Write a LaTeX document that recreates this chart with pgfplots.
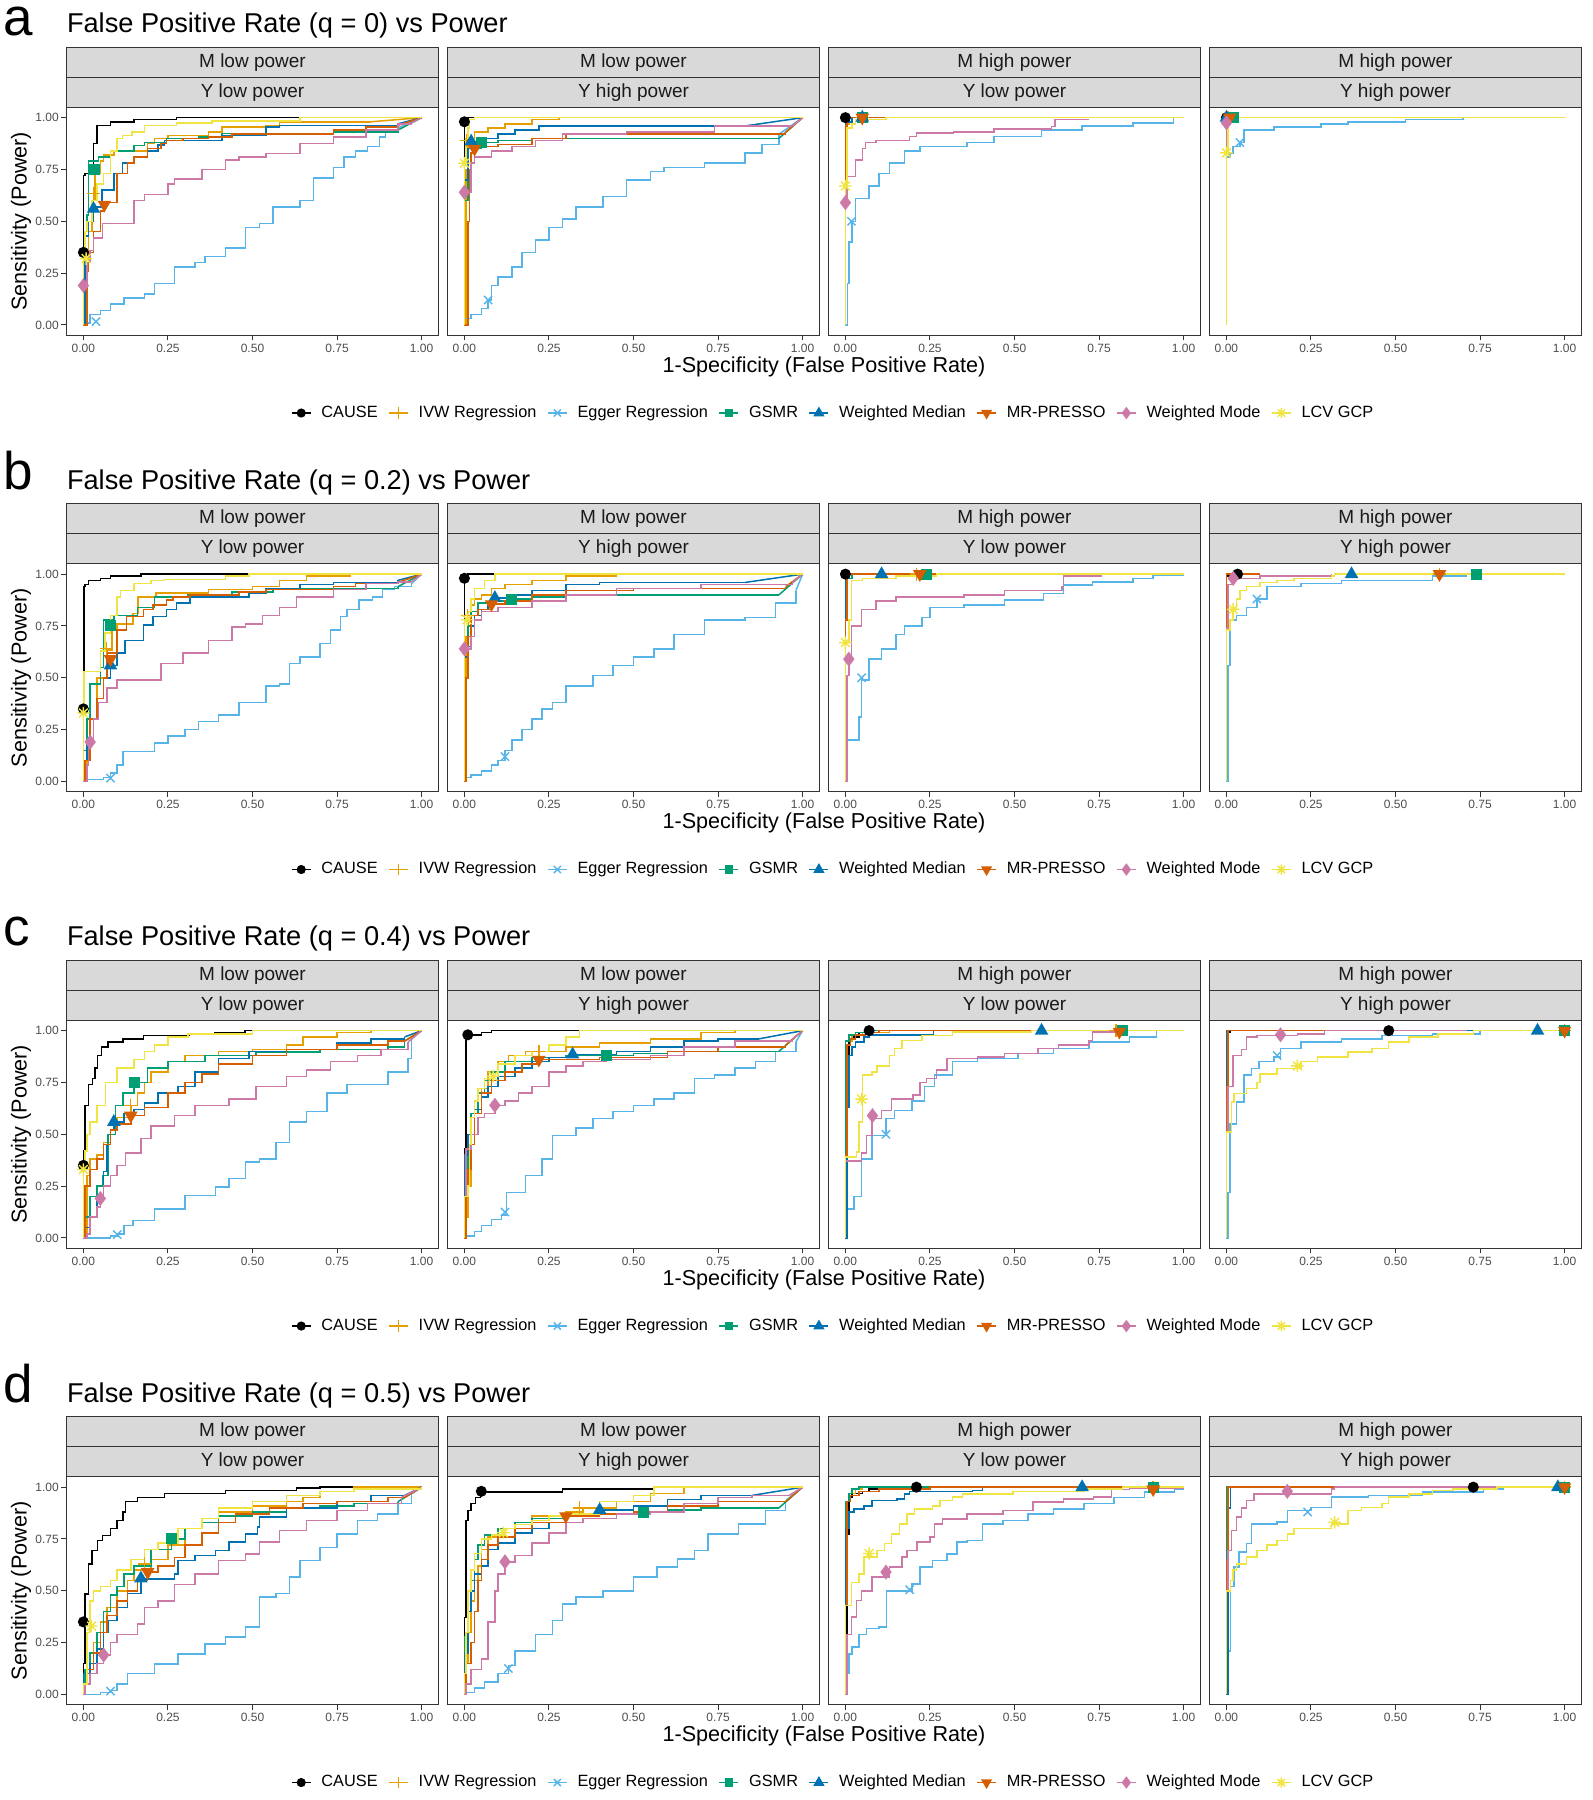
\documentclass[border=0pt]{standalone}
\usepackage{fontspec}
\setmainfont{Liberation Sans}
\usepackage{pgfplots}
\pgfplotsset{compat=1.18}

\definecolor{cCAUSE}{HTML}{000000}
\definecolor{cIVW}{HTML}{E69F00}
\definecolor{cEGG}{HTML}{56B4E9}
\definecolor{cGSMR}{HTML}{009E73}
\definecolor{cWMED}{HTML}{0072B2}
\definecolor{cPRES}{HTML}{D55E00}
\definecolor{cWMOD}{HTML}{CC79A7}
\definecolor{cLCV}{HTML}{F0E442}
\definecolor{grey10}{HTML}{1A1A1A}
\definecolor{grey20}{HTML}{333333}
\definecolor{grey30}{HTML}{4D4D4D}
\definecolor{grey85}{HTML}{D9D9D9}

\newcommand\tickfont{\fontsize{6}{7}\selectfont}
\newcommand\axfont{\fontsize{10.8}{12}\selectfont}
\newcommand\stripfont{\fontsize{9.5}{11}\selectfont}
\newcommand\titfont{\fontsize{13.6}{15}\selectfont}
\newcommand\letfont{\fontsize{26.5}{30}\selectfont}
\newcommand\legfont{\fontsize{8.15}{9}\selectfont}

% ggplot shape 8: plus and cross together
\pgfdeclareplotmark{star8}{%
  \pgfpathmoveto{\pgfqpoint{-\pgfplotmarksize}{0pt}}\pgfpathlineto{\pgfqpoint{\pgfplotmarksize}{0pt}}%
  \pgfpathmoveto{\pgfqpoint{0pt}{-\pgfplotmarksize}}\pgfpathlineto{\pgfqpoint{0pt}{\pgfplotmarksize}}%
  \pgfpathmoveto{\pgfpointpolar{45}{\pgfplotmarksize}}\pgfpathlineto{\pgfpointpolar{225}{\pgfplotmarksize}}%
  \pgfpathmoveto{\pgfpointpolar{135}{\pgfplotmarksize}}\pgfpathlineto{\pgfpointpolar{315}{\pgfplotmarksize}}%
  \pgfusepathqstroke}

\pgfplotsset{
  panel/.style={
    scale only axis, width=186pt, height=114pt, anchor=north west,
    xmin=-0.05, xmax=1.05, ymin=-0.05, ymax=1.05,
    axis line style={draw=grey20, line width=0.5pt},
    xtick={0,0.25,0.5,0.75,1}, xticklabels={0.00,0.25,0.50,0.75,1.00},
    ytick=\empty,
    tick align=outside, tick pos=left, major tick length=2.5pt,
    tick style={draw=grey20, line width=0.5pt},
    xticklabel style={font=\tickfont, text=grey30, inner sep=1.5pt},
    yticklabel style={font=\tickfont, text=grey30, inner sep=1.2pt},
    /pgf/number format/assume math mode=true,
  },
  first/.style={
    ytick={0,0.25,0.5,0.75,1}, yticklabels={0.00,0.25,0.50,0.75,1.00},
    ylabel={Sensitivity (Power)},
    ylabel style={at={(axis description cs:-0.122,0.5)}, anchor=center, font=\axfont},
    legend columns=8,
    legend style={at={(axis description cs:2.058,-0.341)}, anchor=center,
      draw=none, fill=none, font=\legfont, inner sep=0pt,
      nodes={inner xsep=0pt, inner ysep=1pt},
      /tikz/every odd column/.append style={column sep=5pt},
      /tikz/every even column/.append style={column sep=5.3pt}},
    legend image code/.code={\draw[mark repeat=2, mark phase=2, #1] plot coordinates {(0pt,0pt) (4.75pt,0pt) (9.5pt,0pt)};},
  },
  strip/.style 2 args={extra description/.code={
    \draw[draw=grey20, fill=grey85, line width=0.5pt] (0,1) rectangle (1,1.1316);
    \draw[draw=grey20, fill=grey85, line width=0.5pt] (0,1.1316) rectangle (1,1.2632);
    \node[font=\stripfont, text=grey10] at (0.5,1.0658) {#2};
    \node[font=\stripfont, text=grey10] at (0.5,1.1974) {#1};
  }},
  roc/.style={const plot, mark=none, line width=0.75pt},
  cause/.style={roc, color=cCAUSE},
  ivw/.style={roc, color=cIVW},
  egg/.style={roc, color=cEGG},
  gsmr/.style={roc, color=cGSMR},
  wmed/.style={roc, color=cWMED},
  pres/.style={roc, color=cPRES},
  wmod/.style={roc, color=cWMOD},
  lcv/.style={roc, color=cLCV},
  tail/.style={sharp plot},
  pt/.style={only marks, line width=0.7pt},
  causeM/.style={pt, color=cCAUSE, mark=*, mark size=2.4pt},
  ivwM/.style={pt, color=cIVW, mark=+, mark size=3.3pt},
  eggM/.style={pt, color=cEGG, mark=x, mark size=2.9pt},
  gsmrM/.style={pt, color=cGSMR, mark=square*, mark size=2.4pt},
  wmedM/.style={pt, color=cWMED, mark=triangle*, mark size=3.2pt},
  presM/.style={pt, color=cPRES, mark=triangle*, mark size=3.2pt, mark options={rotate=180}},
  wmodM/.style={pt, color=cWMOD, mark=diamond*, mark size=3.2pt},
  lcvM/.style={pt, color=cLCV, mark=star8, mark size=3.1pt},
}

\newcommand\legendimages{%
  \addlegendimage{color=cCAUSE, line width=0.75pt, mark=*, mark size=1.9pt}\addlegendentry{CAUSE}
  \addlegendimage{color=cIVW, line width=0.75pt, mark=+, mark size=2.8pt}\addlegendentry{IVW Regression}
  \addlegendimage{color=cEGG, line width=0.75pt, mark=x, mark size=2.5pt}\addlegendentry{Egger Regression}
  \addlegendimage{color=cGSMR, line width=0.75pt, mark=square*, mark size=1.8pt}\addlegendentry{GSMR}
  \addlegendimage{color=cWMED, line width=0.75pt, mark=triangle*, mark size=2.5pt}\addlegendentry{Weighted Median}
  \addlegendimage{color=cPRES, line width=0.75pt, mark=triangle*, mark size=2.5pt, mark options={rotate=180}}\addlegendentry{MR-PRESSO}
  \addlegendimage{color=cWMOD, line width=0.75pt, mark=diamond*, mark size=2.5pt}\addlegendentry{Weighted Mode}
  \addlegendimage{color=cLCV, line width=0.75pt, mark=star8, mark size=2.6pt}\addlegendentry{LCV GCP}
}

\begin{document}
\begin{tikzpicture}
\useasboundingbox (0pt,0pt) rectangle (796.5pt,900pt);

%%%%%%%%%%%%%%%% row a
\node[anchor=base west, font=\letfont, inner sep=0pt] at (1.5pt,882pt) {a};
\node[anchor=base west, font=\titfont, inner sep=0pt] at (33.3pt,883.5pt) {False Positive Rate (q = 0) vs Power};
\node[font=\axfont] at (412pt,716.65pt) {1-Specificity (False Positive Rate)};

\begin{axis}[panel, first, strip={M low power}{Y low power}, at={(33.25pt,846.35pt)}]
\legendimages
\addplot[cause] coordinates {(0,0)(0,0.35)(0,0.72)(0.005,0.73)(0.03,0.875)(0.04,0.963)(0.08,0.98)(0.15,0.99)(0.275,1)(0.68,1)};
\addplot[ivw] coordinates {(0,0)(0.005,0.3)(0.015,0.45)(0.025,0.6)(0.035,0.73)(0.05,0.79)(0.06,0.82)(0.09,0.84)(0.19,0.875)(0.21,0.9)(0.25,0.915)(0.37,0.93)(0.41,0.955)(0.54,0.963)(0.58,0.98)(0.85,0.98)};
\addplot[ivw, tail] coordinates {(0.85,0.98)(1,1)};
\addplot[egg] coordinates {(0,0)(0.01,0.01)(0.02,0.05)(0.05,0.07)(0.08,0.1)(0.12,0.13)(0.18,0.15)(0.21,0.2)(0.27,0.28)(0.33,0.3)(0.36,0.33)(0.42,0.37)(0.48,0.47)(0.52,0.49)(0.56,0.57)(0.64,0.6)(0.68,0.71)(0.74,0.76)(0.77,0.81)(0.805,0.84)(0.84,0.86)(0.875,0.907)(0.894,0.94)(0.93,0.95)};
\addplot[egg, tail] coordinates {(0.93,0.95)(1,1)};
\addplot[gsmr] coordinates {(0,0)(0.005,0.45)(0.01,0.53)(0.015,0.79)(0.045,0.81)(0.08,0.84)(0.15,0.865)(0.18,0.88)(0.245,0.9)(0.34,0.907)(0.41,0.923)(0.74,0.93)(0.93,0.94)};
\addplot[gsmr, tail] coordinates {(0.93,0.94)(1,1)};
\addplot[wmed] coordinates {(0,0)(0.005,0.43)(0.015,0.5)(0.03,0.57)(0.055,0.65)(0.09,0.73)(0.115,0.78)(0.15,0.81)(0.19,0.84)(0.22,0.867)(0.24,0.89)(0.41,0.915)(0.54,0.955)(0.58,0.963)(0.93,0.97)};
\addplot[wmed, tail] coordinates {(0.93,0.97)(1,1)};
\addplot[pres] coordinates {(0,0)(0.01,0.26)(0.015,0.35)(0.03,0.45)(0.05,0.55)(0.06,0.59)(0.1,0.73)(0.13,0.78)(0.15,0.81)(0.19,0.85)(0.23,0.875)(0.245,0.89)(0.295,0.9)(0.37,0.907)(0.44,0.92)(0.74,0.94)(0.835,0.955)(0.93,0.963)};
\addplot[pres, tail] coordinates {(0.93,0.963)(1,1)};
\addplot[wmod] coordinates {(0,0)(0,0.19)(0.01,0.3)(0.02,0.36)(0.03,0.42)(0.057,0.49)(0.15,0.6)(0.18,0.63)(0.25,0.68)(0.27,0.705)(0.35,0.75)(0.42,0.795)(0.46,0.81)(0.54,0.826)(0.64,0.875)(0.74,0.907)(0.835,0.94)(0.93,0.97)(0.97,0.975)};
\addplot[wmod, tail] coordinates {(0.97,0.975)(1,1)};
\addplot[lcv] coordinates {(0,0)(0,0.33)(0.005,0.45)(0.01,0.5)(0.025,0.6)(0.04,0.68)(0.06,0.73)(0.08,0.84)(0.1,0.9)(0.115,0.915)(0.143,0.93)(0.18,0.963)(0.275,0.974)(0.38,0.984)(0.64,1)(1,1)};
\addplot[causeM] coordinates {(0,0.35)};
\addplot[ivwM] coordinates {(0.03,0.635)};
\addplot[eggM] coordinates {(0.037,0.016)};
\addplot[gsmrM] coordinates {(0.032,0.75)};
\addplot[wmedM] coordinates {(0.03,0.56)};
\addplot[presM] coordinates {(0.062,0.58)};
\addplot[wmodM] coordinates {(0,0.19)};
\addplot[lcvM] coordinates {(0.008,0.32)};
\end{axis}

\begin{axis}[panel, strip={M low power}{Y high power}, at={(223.75pt,846.35pt)}]
\addplot[cause] coordinates {(0,0)(0,0.98)(0.01,1)(0.03,1)};
\addplot[ivw] coordinates {(0,0)(0.005,0.75)(0.01,0.9)(0.03,0.93)(0.07,0.95)(0.12,0.97)(0.2,0.99)(0.28,1)(1,1)};
\addplot[egg] coordinates {(0,0)(0,0.03)(0.02,0.05)(0.05,0.08)(0.07,0.12)(0.08,0.19)(0.1,0.23)(0.14,0.28)(0.17,0.35)(0.21,0.41)(0.25,0.47)(0.29,0.51)(0.33,0.57)(0.41,0.62)(0.48,0.7)(0.55,0.74)(0.59,0.76)(0.71,0.78)(0.83,0.83)(0.88,0.87)(0.93,0.92)};
\addplot[egg, tail] coordinates {(0.93,0.92)(1,1)};
\addplot[gsmr] coordinates {(0,0)(0,0.6)(0.01,0.85)(0.05,0.88)(0.1,0.89)(0.2,0.9)(0.93,0.9)};
\addplot[gsmr, tail] coordinates {(0.93,0.9)(1,1)};
\addplot[wmed] coordinates {(0,0)(0,0.7)(0.01,0.85)(0.02,0.885)(0.05,0.9)(0.1,0.92)(0.15,0.94)(0.22,0.96)(0.83,0.96)};
\addplot[wmed, tail] coordinates {(0.83,0.96)(1,1)};
\addplot[pres] coordinates {(0,0)(0.01,0.5)(0.015,0.75)(0.02,0.83)(0.03,0.86)(0.1,0.87)(0.2,0.9)(0.3,0.92)(0.95,0.93)};
\addplot[pres, tail] coordinates {(0.95,0.93)(1,1)};
\addplot[wmod] coordinates {(0,0)(0,0.64)(0.02,0.78)(0.03,0.81)(0.08,0.84)(0.14,0.86)(0.21,0.89)(0.29,0.92)(0.48,0.93)(0.74,0.96)(0.97,0.96)};
\addplot[wmod, tail] coordinates {(0.97,0.96)(1,1)};
\addplot[lcv] coordinates {(0,0)(0,0.78)(0.005,0.9)(0.01,0.95)(0.015,0.99)(0.03,1)(1,1)};
\addplot[causeM] coordinates {(0,0.98)};
\addplot[ivwM] coordinates {(0.006,0.89)};
\addplot[eggM] coordinates {(0.07,0.12)};
\addplot[gsmrM] coordinates {(0.05,0.88)};
\addplot[wmedM] coordinates {(0.02,0.885)};
\addplot[presM] coordinates {(0.03,0.85)};
\addplot[wmodM] coordinates {(0,0.64)};
\addplot[lcvM] coordinates {(0,0.78)};
\end{axis}

\begin{axis}[panel, strip={M high power}{Y low power}, at={(414.25pt,846.35pt)}]
\addplot[cause] coordinates {(0,0)(0,1)(0.03,1)};
\addplot[ivw] coordinates {(0,0)(0,0.97)(0.01,1)(0.13,1)};
\addplot[egg] coordinates {(0,0)(0.006,0.2)(0.01,0.4)(0.02,0.5)(0.03,0.61)(0.07,0.67)(0.1,0.73)(0.13,0.78)(0.175,0.84)(0.22,0.86)(0.36,0.88)(0.44,0.91)(0.58,0.94)(0.7,0.96)(0.85,0.975)(0.97,0.99)(0.97,1)(1,1)};
\addplot[gsmr] coordinates {(0,0)(0,0.98)(0.01,1)(0.1,1)};
\addplot[wmed] coordinates {(0,0)(0,0.98)(0.02,1)(0.1,1)};
\addplot[pres] coordinates {(0,0)(0,0.96)(0.005,1)(0.13,1)};
\addplot[wmod] coordinates {(0,0)(0,0.59)(0.005,0.715)(0.03,0.795)(0.05,0.85)(0.06,0.88)(0.09,0.89)(0.19,0.91)(0.21,0.925)(0.32,0.93)(0.44,0.945)(0.61,0.957)(0.62,0.99)(0.72,0.99)};
\addplot[lcv] coordinates {(0,0)(0,0.67)(0.005,0.95)(0.02,0.97)(0.03,0.99)(0.12,1)(1,1)};
\addplot[causeM] coordinates {(0,1)};
\addplot[ivwM] coordinates {(0.05,1)};
\addplot[eggM] coordinates {(0.018,0.5)};
\addplot[gsmrM] coordinates {(0.05,1)};
\addplot[wmedM] coordinates {(0.05,1)};
\addplot[presM] coordinates {(0.05,1)};
\addplot[wmodM] coordinates {(0,0.59)};
\addplot[lcvM] coordinates {(0,0.67)};
\end{axis}

\begin{axis}[panel, strip={M high power}{Y high power}, at={(604.75pt,846.35pt)}]
\addplot[cause] coordinates {(0,0)(0,1)(0.02,1)};
\addplot[ivw] coordinates {(0,0)(0,1)(0.03,1)};
\addplot[egg] coordinates {(0,0)(0,0.81)(0.01,0.83)(0.02,0.86)(0.04,0.88)(0.052,0.94)(0.14,0.956)(0.28,0.97)(0.36,0.98)(0.53,0.99)(0.7,1)(1,1)};
\addplot[gsmr] coordinates {(0,0)(0,1)(0.03,1)};
\addplot[wmed] coordinates {(0,0)(0,1)(0.02,1)};
\addplot[pres] coordinates {(0,0)(0,0.97)(0.005,1)(0.03,1)};
\addplot[wmod] coordinates {(0,0)(0,0.97)(0.005,1)(0.02,1)};
\addplot[lcv] coordinates {(0,0)(0,0.83)(0.005,1)(1,1)};
\addplot[causeM] coordinates {(0,1)};
\addplot[ivwM] coordinates {(0.005,1)};
\addplot[eggM] coordinates {(0.04,0.88)};
\addplot[gsmrM] coordinates {(0.02,1)};
\addplot[wmedM] coordinates {(0,1)};
\addplot[presM] coordinates {(0.01,1)};
\addplot[wmodM] coordinates {(0,0.975)};
\addplot[lcvM] coordinates {(0,0.83)};
\end{axis}

%%%%%%%%%%%%%%%% row b
\node[anchor=base west, font=\letfont, inner sep=0pt] at (1.5pt,655.25pt) {b};
\node[anchor=base west, font=\titfont, inner sep=0pt] at (33.3pt,655.25pt) {False Positive Rate (q = 0.2) vs Power};
\node[font=\axfont] at (412pt,488.4pt) {1-Specificity (False Positive Rate)};

\begin{axis}[panel, first, strip={M low power}{Y low power}, at={(33.25pt,618.1pt)}]
\legendimages
\addplot[cause] coordinates {(0,0)(0,0.52)(0.002,0.94)(0.005,0.95)(0.015,0.97)(0.05,0.98)(0.08,0.99)(0.17,1)(0.49,1)};
\addplot[ivw] coordinates {(0,0)(0,0.07)(0.01,0.15)(0.02,0.3)(0.04,0.5)(0.07,0.635)(0.084,0.73)(0.1,0.76)(0.147,0.81)(0.162,0.89)(0.215,0.91)(0.37,0.925)(0.5,0.94)(0.58,0.97)(0.66,0.99)(0.79,1)(1,1)};
\addplot[egg] coordinates {(0,0)(0,0.01)(0.06,0.02)(0.08,0.04)(0.1,0.08)(0.117,0.145)(0.21,0.185)(0.25,0.22)(0.3,0.25)(0.34,0.29)(0.4,0.32)(0.46,0.38)(0.54,0.46)(0.58,0.47)(0.61,0.57)(0.64,0.6)(0.7,0.665)(0.73,0.73)(0.76,0.795)(0.78,0.83)(0.815,0.875)(0.855,0.89)(0.885,0.925)(0.92,0.94)(0.97,0.955)};
\addplot[egg, tail] coordinates {(0.97,0.955)(1,1)};
\addplot[gsmr] coordinates {(0,0)(0,0.15)(0.01,0.3)(0.02,0.47)(0.05,0.55)(0.06,0.78)(0.09,0.8)(0.16,0.84)(0.21,0.89)(0.31,0.9)(0.44,0.915)(0.56,0.93)(0.93,0.94)};
\addplot[gsmr, tail] coordinates {(0.93,0.94)(1,1)};
\addplot[wmed] coordinates {(0,0)(0,0.1)(0.01,0.2)(0.02,0.3)(0.04,0.4)(0.06,0.5)(0.08,0.56)(0.1,0.62)(0.123,0.68)(0.177,0.755)(0.206,0.795)(0.245,0.83)(0.275,0.86)(0.315,0.89)(0.49,0.91)(0.54,0.93)(0.64,0.95)(0.74,0.96)(0.93,0.97)};
\addplot[wmed, tail] coordinates {(0.93,0.97)(1,1)};
\addplot[pres] coordinates {(0,0)(0.005,0.1)(0.02,0.3)(0.04,0.4)(0.06,0.5)(0.07,0.62)(0.1,0.73)(0.128,0.795)(0.177,0.83)(0.206,0.85)(0.245,0.875)(0.265,0.89)(0.315,0.9)(0.46,0.915)(0.54,0.925)(0.74,0.94)(0.805,0.955)(0.93,0.96)};
\addplot[pres, tail] coordinates {(0.93,0.96)(1,1)};
\addplot[wmod] coordinates {(0,0)(0.01,0.08)(0.015,0.2)(0.03,0.3)(0.045,0.38)(0.07,0.45)(0.1,0.49)(0.23,0.57)(0.295,0.62)(0.37,0.68)(0.44,0.745)(0.48,0.76)(0.53,0.8)(0.58,0.84)(0.63,0.89)(0.74,0.925)(0.835,0.955)(0.93,0.963)(0.97,0.963)};
\addplot[wmod, tail] coordinates {(0.97,0.963)(1,1)};
\addplot[lcv] coordinates {(0,0)(0,0.33)(0.002,0.53)(0.05,0.63)(0.064,0.715)(0.08,0.8)(0.1,0.89)(0.11,0.92)(0.15,0.955)(0.2,0.97)(0.24,0.975)(0.42,0.99)(0.49,1)(1,1)};
\addplot[causeM] coordinates {(0,0.35)};
\addplot[ivwM] coordinates {(0.068,0.64)};
\addplot[eggM] coordinates {(0.08,0.016)};
\addplot[gsmrM] coordinates {(0.081,0.75)};
\addplot[wmedM] coordinates {(0.08,0.56)};
\addplot[presM] coordinates {(0.08,0.59)};
\addplot[wmodM] coordinates {(0.02,0.19)};
\addplot[lcvM] coordinates {(0,0.33)};
\end{axis}

\begin{axis}[panel, strip={M low power}{Y high power}, at={(223.75pt,618.1pt)}]
\addplot[cause] coordinates {(0,0)(0,0.98)(0.01,1)(0.09,1)};
\addplot[ivw] coordinates {(0,0)(0,0.5)(0.005,0.7)(0.01,0.8)(0.02,0.85)(0.03,0.88)(0.05,0.9)(0.08,0.93)(0.12,0.95)(0.2,0.97)(0.3,0.99)(0.45,1)(1,1)};
\addplot[egg] coordinates {(0,0)(0,0.02)(0.02,0.03)(0.05,0.05)(0.08,0.08)(0.1,0.1)(0.12,0.15)(0.14,0.2)(0.17,0.25)(0.2,0.3)(0.23,0.35)(0.26,0.38)(0.3,0.46)(0.38,0.51)(0.44,0.56)(0.5,0.6)(0.56,0.64)(0.62,0.71)(0.71,0.78)(0.83,0.79)(0.92,0.86)(0.98,0.92)};
\addplot[egg, tail] coordinates {(0.98,0.92)(1,1)};
\addplot[gsmr] coordinates {(0,0)(0,0.5)(0.01,0.75)(0.02,0.82)(0.04,0.86)(0.08,0.87)(0.14,0.88)(0.2,0.89)(0.3,0.9)(0.93,0.9)};
\addplot[gsmr, tail] coordinates {(0.93,0.9)(1,1)};
\addplot[wmed] coordinates {(0,0)(0,0.6)(0.01,0.65)(0.02,0.75)(0.03,0.8)(0.05,0.83)(0.07,0.86)(0.09,0.885)(0.15,0.9)(0.2,0.92)(0.3,0.95)(0.4,0.96)(0.83,0.96)};
\addplot[wmed, tail] coordinates {(0.83,0.96)(1,1)};
\addplot[pres] coordinates {(0,0)(0.005,0.5)(0.01,0.7)(0.02,0.8)(0.04,0.83)(0.08,0.855)(0.12,0.87)(0.2,0.9)(0.3,0.92)(0.5,0.93)(0.95,0.94)};
\addplot[pres, tail] coordinates {(0.95,0.94)(1,1)};
\addplot[wmod] coordinates {(0,0)(0,0.64)(0.02,0.7)(0.03,0.78)(0.05,0.82)(0.1,0.84)(0.2,0.87)(0.3,0.9)(0.45,0.93)(0.7,0.95)(0.97,0.96)};
\addplot[wmod, tail] coordinates {(0.97,0.96)(1,1)};
\addplot[lcv] coordinates {(0,0)(0,0.78)(0.01,0.82)(0.02,0.88)(0.03,0.93)(0.06,0.97)(0.09,1)(1,1)};
\addplot[causeM] coordinates {(0,0.98)};
\addplot[ivwM] coordinates {(0.01,0.8)};
\addplot[eggM] coordinates {(0.12,0.12)};
\addplot[gsmrM] coordinates {(0.14,0.88)};
\addplot[wmedM] coordinates {(0.09,0.885)};
\addplot[presM] coordinates {(0.08,0.855)};
\addplot[wmodM] coordinates {(0,0.64)};
\addplot[lcvM] coordinates {(0.008,0.78)};
\end{axis}

\begin{axis}[panel, strip={M high power}{Y low power}, at={(414.25pt,618.1pt)}]
\addplot[cause] coordinates {(0,0)(0,1)(0.03,1)};
\addplot[ivw] coordinates {(0,0)(0,0.99)(0.01,1)(0.27,1)};
\addplot[egg] coordinates {(0,0)(0.005,0.2)(0.04,0.31)(0.048,0.49)(0.07,0.59)(0.107,0.64)(0.15,0.71)(0.175,0.75)(0.227,0.79)(0.25,0.84)(0.35,0.85)(0.47,0.875)(0.585,0.907)(0.645,0.947)(0.73,0.963)(0.85,0.98)(0.91,0.997)(1,1)};
\addplot[gsmr] coordinates {(0,0)(0,0.98)(0.02,1)(0.26,1)};
\addplot[wmed] coordinates {(0,0)(0,0.98)(0.01,1)(0.15,1)};
\addplot[pres] coordinates {(0,0)(0,0.78)(0.005,1)(0.27,1)};
\addplot[wmod] coordinates {(0,0)(0.005,0.51)(0.01,0.59)(0.018,0.75)(0.048,0.83)(0.09,0.87)(0.15,0.89)(0.35,0.9)(0.47,0.92)(0.64,0.94)(0.645,0.99)(0.76,0.99)};
\addplot[lcv] coordinates {(0,0)(0,0.67)(0.01,0.78)(0.018,0.97)(0.05,0.98)(0.15,0.99)(0.27,1)(1,1)};
\addplot[causeM] coordinates {(0,1)};
\addplot[ivwM] coordinates {(0.21,1)};
\addplot[eggM] coordinates {(0.048,0.5)};
\addplot[gsmrM] coordinates {(0.24,1)};
\addplot[wmedM] coordinates {(0.107,1)};
\addplot[presM] coordinates {(0.22,1)};
\addplot[wmodM] coordinates {(0.01,0.59)};
\addplot[lcvM] coordinates {(0,0.67)};
\end{axis}

\begin{axis}[panel, strip={M high power}{Y high power}, at={(604.75pt,618.1pt)}]
\addplot[cause] coordinates {(0,0)(0,0.99)(0.02,1)(0.035,1)};
\addplot[ivw] coordinates {(0,0)(0,1)(0.05,1)};
\addplot[egg] coordinates {(0,0)(0.005,0.56)(0.01,0.78)(0.03,0.8)(0.06,0.84)(0.09,0.88)(0.12,0.94)(0.22,0.955)(0.34,0.97)(0.61,0.99)(0.71,1)(1,1)};
\addplot[gsmr] coordinates {(0,0)(0,1)(0.1,1)};
\addplot[wmed] coordinates {(0,0)(0,1)(0.1,1)};
\addplot[pres] coordinates {(0,0)(0,1)(0.1,1)};
\addplot[wmod] coordinates {(0,0)(0,0.74)(0.005,0.95)(0.02,0.98)(0.1,0.99)(0.31,1)};
\addplot[lcv] coordinates {(0,0)(0,0.73)(0.01,0.78)(0.02,0.83)(0.03,0.88)(0.04,0.92)(0.06,0.94)(0.1,0.96)(0.15,0.97)(0.2,0.98)(0.31,0.99)(0.32,1)(1,1)};
\addplot[causeM] coordinates {(0.033,1)};
\addplot[ivwM] coordinates {(0.63,1)};
\addplot[eggM] coordinates {(0.09,0.88)};
\addplot[gsmrM] coordinates {(0.74,1)};
\addplot[wmedM] coordinates {(0.37,1)};
\addplot[presM] coordinates {(0.63,1)};
\addplot[wmodM] coordinates {(0.02,0.98)};
\addplot[lcvM] coordinates {(0.02,0.83)};
\end{axis}

%%%%%%%%%%%%%%%% row c
\node[anchor=base west, font=\letfont, inner sep=0pt] at (1.5pt,427pt) {c};
\node[anchor=base west, font=\titfont, inner sep=0pt] at (33.3pt,427pt) {False Positive Rate (q = 0.4) vs Power};
\node[font=\axfont] at (412pt,260.15pt) {1-Specificity (False Positive Rate)};

\begin{axis}[panel, first, strip={M low power}{Y low power}, at={(33.25pt,389.85pt)}]
\legendimages
\addplot[cause] coordinates {(0,0)(0,0.42)(0.005,0.64)(0.015,0.74)(0.027,0.77)(0.035,0.82)(0.042,0.88)(0.053,0.92)(0.072,0.945)(0.117,0.96)(0.177,0.977)(0.312,0.984)(0.388,0.99)(0.478,1)(0.525,1)};
\addplot[ivw] coordinates {(0,0)(0.01,0.3)(0.02,0.38)(0.04,0.4)(0.06,0.46)(0.08,0.52)(0.1,0.58)(0.14,0.64)(0.16,0.7)(0.18,0.75)(0.2,0.8)(0.25,0.85)(0.3,0.88)(0.4,0.9)(0.5,0.91)(0.6,0.93)(0.65,0.97)(0.75,0.99)(0.85,1)(1,1)};
\addplot[egg] coordinates {(0,0)(0.05,0)(0.08,0.01)(0.1,0.02)(0.12,0.06)(0.147,0.085)(0.21,0.14)(0.3,0.205)(0.39,0.246)(0.43,0.286)(0.48,0.366)(0.52,0.38)(0.57,0.46)(0.61,0.56)(0.66,0.61)(0.72,0.7)(0.78,0.74)(0.9,0.8)(0.96,0.865)(0.97,0.96)};
\addplot[egg, tail] coordinates {(0.97,0.96)(1,1)};
\addplot[gsmr] coordinates {(0,0)(0,0.1)(0.02,0.2)(0.04,0.25)(0.057,0.3)(0.072,0.5)(0.095,0.64)(0.117,0.7)(0.15,0.75)(0.19,0.82)(0.25,0.85)(0.36,0.88)(0.51,0.897)(0.7,0.91)(0.9,0.92)(0.95,0.95)};
\addplot[gsmr, tail] coordinates {(0.95,0.95)(1,1)};
\addplot[wmed] coordinates {(0,0)(0,0.05)(0.02,0.1)(0.04,0.2)(0.06,0.32)(0.07,0.45)(0.08,0.52)(0.09,0.56)(0.12,0.6)(0.15,0.62)(0.18,0.65)(0.22,0.7)(0.28,0.73)(0.33,0.8)(0.4,0.865)(0.49,0.9)(0.6,0.91)(0.75,0.94)(0.85,0.96)(0.95,0.97)};
\addplot[wmed, tail] coordinates {(0.95,0.97)(1,1)};
\addplot[pres] coordinates {(0,0)(0.005,0.25)(0.02,0.33)(0.04,0.38)(0.06,0.45)(0.08,0.52)(0.1,0.55)(0.14,0.59)(0.18,0.63)(0.25,0.7)(0.3,0.75)(0.35,0.79)(0.4,0.84)(0.5,0.88)(0.6,0.91)(0.75,0.93)(0.9,0.95)(0.95,0.95)};
\addplot[pres, tail] coordinates {(0.95,0.95)(1,1)};
\addplot[wmod] coordinates {(0,0)(0.01,0.02)(0.02,0.1)(0.04,0.15)(0.05,0.19)(0.06,0.25)(0.08,0.3)(0.1,0.35)(0.125,0.41)(0.17,0.48)(0.2,0.54)(0.27,0.59)(0.33,0.64)(0.43,0.67)(0.51,0.73)(0.6,0.78)(0.66,0.81)(0.73,0.85)(0.81,0.88)(0.88,0.91)(0.96,0.945)};
\addplot[wmod, tail] coordinates {(0.96,0.945)(1,1)};
\addplot[lcv] coordinates {(0,0)(0,0.35)(0.005,0.42)(0.01,0.5)(0.02,0.56)(0.04,0.64)(0.065,0.75)(0.1,0.82)(0.15,0.86)(0.18,0.9)(0.21,0.93)(0.25,0.97)(0.31,0.985)(0.5,1)(1,1)};
\addplot[causeM] coordinates {(0,0.35)};
\addplot[ivwM] coordinates {(0.14,0.64)};
\addplot[eggM] coordinates {(0.1,0.016)};
\addplot[gsmrM] coordinates {(0.15,0.75)};
\addplot[wmedM] coordinates {(0.09,0.56)};
\addplot[presM] coordinates {(0.14,0.59)};
\addplot[wmodM] coordinates {(0.05,0.19)};
\addplot[lcvM] coordinates {(0,0.33)};
\end{axis}

\begin{axis}[panel, strip={M low power}{Y high power}, at={(223.75pt,389.85pt)}]
\addplot[cause] coordinates {(0,0)(0,0.43)(0.005,0.98)(0.05,0.99)(0.08,1)(0.34,1)};
\addplot[ivw] coordinates {(0,0)(0,0.1)(0.01,0.25)(0.02,0.45)(0.03,0.6)(0.05,0.72)(0.07,0.8)(0.1,0.85)(0.13,0.88)(0.18,0.9)(0.3,0.92)(0.4,0.94)(0.55,0.96)(0.7,0.99)(0.8,1)(1,1)};
\addplot[egg] coordinates {(0,0)(0,0.01)(0.03,0.03)(0.05,0.06)(0.08,0.09)(0.11,0.11)(0.125,0.22)(0.18,0.3)(0.23,0.38)(0.26,0.495)(0.33,0.53)(0.38,0.575)(0.44,0.61)(0.5,0.64)(0.56,0.67)(0.62,0.7)(0.68,0.77)(0.74,0.785)(0.8,0.82)(0.86,0.85)(0.92,0.9)(0.98,0.945)};
\addplot[egg, tail] coordinates {(0.98,0.945)(1,1)};
\addplot[gsmr] coordinates {(0,0)(0,0.3)(0.01,0.5)(0.02,0.6)(0.04,0.7)(0.06,0.76)(0.08,0.8)(0.12,0.85)(0.2,0.87)(0.3,0.88)(0.5,0.89)(0.6,0.9)(0.93,0.9)};
\addplot[gsmr, tail] coordinates {(0.93,0.9)(1,1)};
\addplot[wmed] coordinates {(0,0)(0,0.4)(0.01,0.5)(0.02,0.58)(0.03,0.62)(0.05,0.68)(0.07,0.73)(0.1,0.78)(0.15,0.82)(0.2,0.85)(0.25,0.87)(0.32,0.885)(0.45,0.9)(0.55,0.92)(0.65,0.95)(0.75,0.96)(0.87,0.96)};
\addplot[wmed, tail] coordinates {(0.87,0.96)(1,1)};
\addplot[pres] coordinates {(0,0)(0.005,0.2)(0.01,0.33)(0.02,0.45)(0.03,0.6)(0.05,0.7)(0.08,0.76)(0.12,0.8)(0.17,0.84)(0.22,0.86)(0.4,0.87)(0.6,0.9)(0.75,0.92)(0.95,0.93)};
\addplot[pres, tail] coordinates {(0.95,0.93)(1,1)};
\addplot[wmod] coordinates {(0,0)(0,0.2)(0.005,0.43)(0.02,0.5)(0.04,0.58)(0.06,0.6)(0.09,0.64)(0.12,0.66)(0.16,0.7)(0.2,0.73)(0.25,0.8)(0.3,0.83)(0.35,0.85)(0.42,0.86)(0.55,0.88)(0.65,0.92)(0.8,0.95)(0.97,0.96)};
\addplot[wmod, tail] coordinates {(0.97,0.96)(1,1)};
\addplot[lcv] coordinates {(0,0)(0,0.2)(0.01,0.25)(0.015,0.45)(0.02,0.58)(0.03,0.66)(0.04,0.72)(0.06,0.77)(0.085,0.78)(0.1,0.84)(0.15,0.88)(0.2,0.9)(0.25,0.93)(0.3,0.97)(0.34,1)(1,1)};
\addplot[causeM] coordinates {(0.01,0.98)};
\addplot[ivwM] coordinates {(0.22,0.9)};
\addplot[eggM] coordinates {(0.12,0.125)};
\addplot[gsmrM] coordinates {(0.42,0.88)};
\addplot[wmedM] coordinates {(0.32,0.885)};
\addplot[presM] coordinates {(0.22,0.86)};
\addplot[wmodM] coordinates {(0.09,0.64)};
\addplot[lcvM] coordinates {(0.085,0.78)};
\end{axis}

\begin{axis}[panel, strip={M high power}{Y low power}, at={(414.25pt,389.85pt)}]
\addplot[cause] coordinates {(0,0)(0.005,0.77)(0.01,0.95)(0.02,0.97)(0.04,0.99)(0.07,1)(0.08,1)};
\addplot[ivw] coordinates {(0,0)(0,0.95)(0.02,0.98)(0.05,0.99)(0.13,1)(1,1)};
\addplot[egg] coordinates {(0,0)(0.005,0.14)(0.025,0.2)(0.048,0.38)(0.078,0.495)(0.12,0.575)(0.145,0.615)(0.197,0.66)(0.234,0.73)(0.264,0.785)(0.316,0.85)(0.39,0.865)(0.51,0.89)(0.615,0.913)(0.72,0.945)(0.84,0.97)(0.92,0.99)(0.92,1)(1,1)};
\addplot[gsmr] coordinates {(0,0)(0,0.95)(0.01,0.98)(0.03,0.99)(0.06,1)(0.13,1)};
\addplot[wmed] coordinates {(0,0)(0.005,0.63)(0.01,0.88)(0.02,0.92)(0.03,0.945)(0.055,0.97)(0.07,0.98)(0.23,0.98)(0.26,1)(0.3,1)};
\addplot[pres] coordinates {(0,0)(0,0.4)(0.005,0.93)(0.015,0.96)(0.03,0.98)(0.06,0.99)(0.1,1)(0.55,1)};
\addplot[wmod] coordinates {(0,0)(0,0.37)(0.048,0.41)(0.063,0.495)(0.078,0.575)(0.107,0.615)(0.137,0.67)(0.2,0.69)(0.22,0.75)(0.24,0.77)(0.27,0.81)(0.3,0.865)(0.39,0.873)(0.47,0.89)(0.57,0.913)(0.63,0.93)(0.72,0.953)(0.73,0.994)(0.81,1)(1,1)};
\addplot[lcv] coordinates {(0,0)(0,0.39)(0.033,0.415)(0.04,0.56)(0.05,0.785)(0.078,0.8)(0.093,0.83)(0.13,0.88)(0.145,0.913)(0.167,0.953)(0.227,0.977)(0.316,0.994)(0.55,1)(1,1)};
\addplot[causeM] coordinates {(0.07,1)};
\addplot[ivwM] coordinates {(0.8,1)};
\addplot[eggM] coordinates {(0.12,0.5)};
\addplot[gsmrM] coordinates {(0.82,1)};
\addplot[wmedM] coordinates {(0.58,1)};
\addplot[presM] coordinates {(0.81,0.995)};
\addplot[wmodM] coordinates {(0.08,0.59)};
\addplot[lcvM] coordinates {(0.048,0.67)};
\end{axis}

\begin{axis}[panel, strip={M high power}{Y high power}, at={(604.75pt,389.85pt)}]
\addplot[cause] coordinates {(0,0)(0,0.99)(0.01,1)(0.48,1)};
\addplot[ivw] coordinates {(0,0)(0,1)(1,1)};
\addplot[egg] coordinates {(0,0)(0.005,0.22)(0.01,0.55)(0.03,0.656)(0.052,0.785)(0.074,0.817)(0.097,0.85)(0.14,0.873)(0.16,0.913)(0.22,0.945)(0.34,0.96)(0.46,0.977)(0.61,0.985)(0.75,1)(1,1)};
\addplot[gsmr] coordinates {(0,0)(0,1)(1,1)};
\addplot[wmed] coordinates {(0,0)(0,1)(0.92,1)};
\addplot[pres] coordinates {(0,0)(0,0.73)(0.005,1)(0.29,1)};
\addplot[wmod] coordinates {(0,0)(0,0.51)(0.005,0.73)(0.02,0.88)(0.045,0.91)(0.06,0.97)(0.09,0.977)(0.21,0.984)(0.29,1)(0.71,1)};
\addplot[lcv] coordinates {(0,0)(0,0.51)(0.015,0.656)(0.022,0.696)(0.06,0.72)(0.09,0.75)(0.1,0.79)(0.15,0.817)(0.22,0.85)(0.27,0.873)(0.36,0.897)(0.43,0.913)(0.48,0.945)(0.54,0.97)(0.625,0.985)(0.73,1)(1,1)};
\addplot[causeM] coordinates {(0.48,1)};
\addplot[ivwM] coordinates {(1,1)};
\addplot[eggM] coordinates {(0.15,0.88)};
\addplot[gsmrM] coordinates {(1,1)};
\addplot[wmedM] coordinates {(0.92,1)};
\addplot[presM] coordinates {(1,1)};
\addplot[wmodM] coordinates {(0.16,0.98)};
\addplot[lcvM] coordinates {(0.21,0.83)};
\end{axis}

%%%%%%%%%%%%%%%% row d
\node[anchor=base west, font=\letfont, inner sep=0pt] at (1.5pt,198.75pt) {d};
\node[anchor=base west, font=\titfont, inner sep=0pt] at (33.3pt,198.75pt) {False Positive Rate (q = 0.5) vs Power};
\node[font=\axfont] at (412pt,31.9pt) {1-Specificity (False Positive Rate)};

\begin{axis}[panel, first, strip={M low power}{Y low power}, at={(33.25pt,161.6pt)}]
\legendimages
\addplot[cause] coordinates {(0,0)(0,0.15)(0.005,0.485)(0.015,0.63)(0.025,0.695)(0.042,0.743)(0.057,0.767)(0.08,0.8)(0.1,0.84)(0.117,0.88)(0.125,0.93)(0.16,0.95)(0.24,0.97)(0.42,0.984)(0.63,0.997)(0.7,1)(0.83,1)};
\addplot[ivw] coordinates {(0,0)(0.005,0.1)(0.02,0.15)(0.03,0.25)(0.05,0.35)(0.07,0.42)(0.1,0.5)(0.13,0.55)(0.15,0.6)(0.2,0.65)(0.25,0.72)(0.3,0.8)(0.35,0.85)(0.4,0.88)(0.5,0.91)(0.6,0.93)(0.65,0.95)(0.7,0.98)(0.8,1)(1,1)};
\addplot[egg] coordinates {(0,0)(0.05,0.01)(0.08,0.02)(0.1,0.05)(0.13,0.1)(0.21,0.148)(0.28,0.196)(0.36,0.244)(0.42,0.276)(0.48,0.325)(0.52,0.47)(0.57,0.486)(0.61,0.566)(0.64,0.646)(0.7,0.71)(0.75,0.775)(0.81,0.84)(0.87,0.87)(0.93,0.92)(0.97,0.968)};
\addplot[egg, tail] coordinates {(0.97,0.968)(1,1)};
\addplot[gsmr] coordinates {(0,0)(0.005,0.12)(0.02,0.2)(0.04,0.3)(0.06,0.4)(0.08,0.48)(0.1,0.52)(0.12,0.58)(0.15,0.62)(0.2,0.7)(0.26,0.75)(0.3,0.8)(0.35,0.83)(0.4,0.86)(0.5,0.88)(0.6,0.9)(0.7,0.91)(0.8,0.92)(0.93,0.93)};
\addplot[gsmr, tail] coordinates {(0.93,0.93)(1,1)};
\addplot[wmed] coordinates {(0,0)(0,0.1)(0.02,0.15)(0.04,0.22)(0.06,0.3)(0.072,0.357)(0.1,0.42)(0.13,0.486)(0.17,0.558)(0.27,0.582)(0.28,0.646)(0.33,0.67)(0.39,0.695)(0.43,0.735)(0.48,0.775)(0.515,0.807)(0.52,0.855)(0.6,0.9)(0.75,0.93)(0.85,0.96)(0.95,0.96)};
\addplot[wmed, tail] coordinates {(0.95,0.96)(1,1)};
\addplot[pres] coordinates {(0,0)(0,0.05)(0.01,0.12)(0.03,0.2)(0.05,0.3)(0.07,0.38)(0.1,0.45)(0.13,0.5)(0.16,0.55)(0.19,0.59)(0.22,0.62)(0.27,0.66)(0.3,0.72)(0.35,0.78)(0.4,0.83)(0.45,0.87)(0.55,0.9)(0.65,0.92)(0.75,0.93)(0.9,0.95)(0.95,0.95)};
\addplot[pres, tail] coordinates {(0.95,0.95)(1,1)};
\addplot[wmod] coordinates {(0,0)(0.005,0.05)(0.02,0.1)(0.04,0.15)(0.06,0.19)(0.08,0.25)(0.1,0.29)(0.16,0.34)(0.18,0.42)(0.22,0.45)(0.27,0.53)(0.33,0.58)(0.4,0.646)(0.48,0.678)(0.52,0.735)(0.58,0.79)(0.66,0.84)(0.75,0.887)(0.84,0.92)(0.94,0.95)};
\addplot[wmod, tail] coordinates {(0.94,0.95)(1,1)};
\addplot[lcv] coordinates {(0,0)(0,0.05)(0.01,0.3)(0.02,0.45)(0.03,0.5)(0.05,0.52)(0.08,0.55)(0.1,0.6)(0.14,0.65)(0.18,0.7)(0.22,0.73)(0.28,0.8)(0.35,0.85)(0.4,0.9)(0.5,0.93)(0.6,0.96)(0.7,0.98)(0.8,0.99)(1,1)};
\addplot[causeM] coordinates {(0,0.35)};
\addplot[ivwM] coordinates {(0.18,0.63)};
\addplot[eggM] coordinates {(0.08,0.016)};
\addplot[gsmrM] coordinates {(0.26,0.75)};
\addplot[wmedM] coordinates {(0.17,0.56)};
\addplot[presM] coordinates {(0.19,0.59)};
\addplot[wmodM] coordinates {(0.06,0.19)};
\addplot[lcvM] coordinates {(0.024,0.33)};
\end{axis}

\begin{axis}[panel, strip={M low power}{Y high power}, at={(223.75pt,161.6pt)}]
\addplot[cause] coordinates {(0,0)(0,0.37)(0.005,0.84)(0.01,0.887)(0.02,0.92)(0.033,0.95)(0.048,0.976)(0.29,0.99)(0.56,1)};
\addplot[ivw] coordinates {(0,0)(0.005,0.15)(0.01,0.3)(0.02,0.45)(0.03,0.55)(0.04,0.62)(0.05,0.7)(0.07,0.76)(0.1,0.8)(0.15,0.83)(0.2,0.86)(0.3,0.88)(0.35,0.9)(0.45,0.93)(0.55,0.97)(0.65,1)(1,1)};
\addplot[egg] coordinates {(0,0)(0,0.01)(0.03,0.03)(0.06,0.06)(0.1,0.1)(0.13,0.14)(0.15,0.21)(0.21,0.29)(0.26,0.357)(0.29,0.437)(0.33,0.47)(0.41,0.5)(0.5,0.566)(0.57,0.614)(0.63,0.654)(0.68,0.695)(0.72,0.775)(0.81,0.823)(0.89,0.887)(0.95,0.935)};
\addplot[egg, tail] coordinates {(0.95,0.935)(1,1)};
\addplot[gsmr] coordinates {(0,0)(0,0.28)(0.01,0.4)(0.02,0.55)(0.03,0.65)(0.04,0.72)(0.06,0.77)(0.1,0.8)(0.15,0.83)(0.2,0.85)(0.3,0.86)(0.4,0.87)(0.53,0.88)(0.6,0.89)(0.7,0.9)(0.93,0.9)};
\addplot[gsmr, tail] coordinates {(0.93,0.9)(1,1)};
\addplot[wmed] coordinates {(0,0)(0,0.2)(0.01,0.4)(0.02,0.5)(0.03,0.58)(0.05,0.62)(0.07,0.7)(0.1,0.73)(0.15,0.78)(0.2,0.8)(0.25,0.83)(0.3,0.86)(0.4,0.89)(0.5,0.91)(0.6,0.94)(0.7,0.96)(0.85,0.96)};
\addplot[wmed, tail] coordinates {(0.85,0.96)(1,1)};
\addplot[pres] coordinates {(0,0)(0.005,0.15)(0.02,0.25)(0.03,0.4)(0.04,0.55)(0.05,0.65)(0.07,0.72)(0.1,0.76)(0.15,0.8)(0.2,0.83)(0.3,0.86)(0.4,0.87)(0.5,0.88)(0.6,0.91)(0.75,0.93)(0.95,0.93)};
\addplot[pres, tail] coordinates {(0.95,0.93)(1,1)};
\addplot[wmod] coordinates {(0,0)(0.005,0.05)(0.02,0.12)(0.05,0.17)(0.07,0.35)(0.09,0.5)(0.1,0.58)(0.12,0.64)(0.15,0.67)(0.2,0.73)(0.25,0.78)(0.3,0.83)(0.35,0.85)(0.45,0.87)(0.55,0.88)(0.65,0.92)(0.75,0.95)(0.85,0.96)(0.96,0.96)};
\addplot[wmod, tail] coordinates {(0.96,0.96)(1,1)};
\addplot[lcv] coordinates {(0,0)(0,0.1)(0.005,0.3)(0.01,0.5)(0.02,0.6)(0.03,0.68)(0.05,0.75)(0.08,0.77)(0.12,0.8)(0.15,0.82)(0.2,0.84)(0.25,0.86)(0.3,0.87)(0.4,0.93)(0.5,0.96)(0.56,1)(1,1)};
\addplot[causeM] coordinates {(0.05,0.98)};
\addplot[ivwM] coordinates {(0.34,0.9)};
\addplot[eggM] coordinates {(0.13,0.125)};
\addplot[gsmrM] coordinates {(0.53,0.88)};
\addplot[wmedM] coordinates {(0.4,0.89)};
\addplot[presM] coordinates {(0.3,0.86)};
\addplot[wmodM] coordinates {(0.12,0.64)};
\addplot[lcvM] coordinates {(0.115,0.78)};
\end{axis}

\begin{axis}[panel, strip={M high power}{Y low power}, at={(414.25pt,161.6pt)}]
\addplot[cause] coordinates {(0,0)(0.005,0.775)(0.01,0.95)(0.02,0.97)(0.05,0.98)(0.07,0.99)(0.21,1)(0.25,1)};
\addplot[ivw] coordinates {(0,0)(0,0.93)(0.01,0.97)(0.03,0.99)(0.05,1)(1,1)};
\addplot[egg] coordinates {(0,0)(0.003,0.1)(0.01,0.196)(0.02,0.23)(0.04,0.29)(0.063,0.317)(0.1,0.325)(0.122,0.5)(0.197,0.534)(0.22,0.614)(0.257,0.646)(0.3,0.678)(0.33,0.735)(0.36,0.743)(0.406,0.823)(0.466,0.84)(0.54,0.871)(0.615,0.895)(0.705,0.92)(0.794,0.95)(0.884,0.976)(0.973,0.992)(1,1)};
\addplot[gsmr] coordinates {(0,0)(0,0.93)(0.01,0.97)(0.02,0.99)(0.04,1)(0.25,1)};
\addplot[wmed] coordinates {(0,0)(0,0.8)(0.01,0.88)(0.025,0.895)(0.055,0.91)(0.078,0.935)(0.153,0.943)(0.175,0.968)(0.19,0.98)(0.376,0.984)(0.406,1)(0.42,1)};
\addplot[pres] coordinates {(0,0)(0,0.43)(0.005,0.93)(0.015,0.96)(0.04,0.98)(0.1,0.99)(0.25,1)(0.82,1)};
\addplot[wmod] coordinates {(0,0)(0.005,0.29)(0.018,0.373)(0.033,0.453)(0.048,0.5)(0.078,0.566)(0.13,0.614)(0.167,0.662)(0.182,0.695)(0.212,0.735)(0.25,0.76)(0.264,0.823)(0.287,0.847)(0.36,0.871)(0.466,0.887)(0.555,0.928)(0.645,0.944)(0.734,0.952)(0.787,0.989)(0.84,0.997)(1,1)};
\addplot[lcv] coordinates {(0,0)(0,0.43)(0.018,0.54)(0.04,0.58)(0.055,0.662)(0.093,0.695)(0.115,0.727)(0.137,0.775)(0.16,0.823)(0.182,0.871)(0.204,0.895)(0.257,0.91)(0.28,0.935)(0.316,0.952)(0.346,0.968)(0.495,0.98)(0.705,0.992)(0.82,1)(1,1)};
\addplot[causeM] coordinates {(0.21,1)};
\addplot[ivwM] coordinates {(0.91,1)};
\addplot[eggM] coordinates {(0.19,0.505)};
\addplot[gsmrM] coordinates {(0.91,1)};
\addplot[wmedM] coordinates {(0.7,1)};
\addplot[presM] coordinates {(0.91,0.99)};
\addplot[wmodM] coordinates {(0.12,0.59)};
\addplot[lcvM] coordinates {(0.07,0.68)};
\end{axis}

\begin{axis}[panel, strip={M high power}{Y high power}, at={(604.75pt,161.6pt)}]
\addplot[cause] coordinates {(0,0)(0,1)(0.73,1)};
\addplot[ivw] coordinates {(0,0)(0,1)(1,1)};
\addplot[egg] coordinates {(0,0)(0.005,0.21)(0.012,0.52)(0.022,0.614)(0.037,0.686)(0.06,0.727)(0.074,0.823)(0.15,0.831)(0.18,0.887)(0.25,0.903)(0.31,0.952)(0.42,0.96)(0.58,0.976)(0.76,0.992)(0.82,1)(1,1)};
\addplot[gsmr] coordinates {(0,0)(0,1)(1,1)};
\addplot[wmed] coordinates {(0,0)(0.005,0.9)(0.012,1)(0.98,1)};
\addplot[pres] coordinates {(0,0)(0,0.65)(0.005,1)(0.32,1)};
\addplot[wmod] coordinates {(0,0)(0,0.5)(0.005,0.694)(0.015,0.79)(0.03,0.855)(0.045,0.9)(0.06,0.936)(0.082,0.968)(0.31,0.99)(0.32,1)(0.8,1)};
\addplot[lcv] coordinates {(0,0)(0,0.5)(0.012,0.55)(0.02,0.6)(0.03,0.63)(0.06,0.662)(0.09,0.695)(0.12,0.72)(0.15,0.743)(0.18,0.775)(0.2,0.8)(0.31,0.823)(0.36,0.887)(0.4,0.903)(0.46,0.92)(0.48,0.952)(0.54,0.968)(0.61,0.984)(0.67,0.992)(0.8,1)(1,1)};
\addplot[causeM] coordinates {(0.73,1)};
\addplot[ivwM] coordinates {(1,1)};
\addplot[eggM] coordinates {(0.24,0.88)};
\addplot[gsmrM] coordinates {(1,1)};
\addplot[wmedM] coordinates {(0.98,1)};
\addplot[presM] coordinates {(1,1)};
\addplot[wmodM] coordinates {(0.18,0.98)};
\addplot[lcvM] coordinates {(0.32,0.83)};
\end{axis}

\end{tikzpicture}
\end{document}
